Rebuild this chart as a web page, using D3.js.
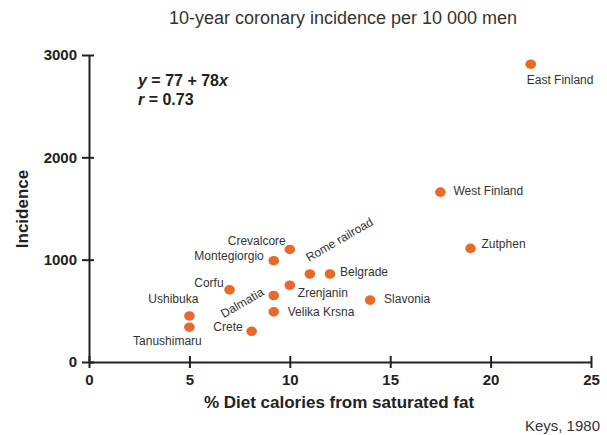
<!DOCTYPE html>
<html>
<head>
<meta charset="utf-8">
<script src="https://cdn.jsdelivr.net/npm/d3@7"></script>
<style>
  body { margin: 0; background: #fff; }
  svg { display: block; font-family: "Liberation Sans", Arial, Helvetica, sans-serif; }
</style>
</head>
<body>
<div id="chart"></div>
<script>
// Seven Countries study: saturated fat vs coronary incidence //
const width = 607;
const height = 435;

// data
const cohorts = ["East Finland", "West Finland", "Zutphen", "Slavonia", "Belgrade",
  "Rome railroad", "Crevalcore", "Montegiorgio", "Zrenjanin", "Dalmatia",
  "Velika Krsna", "Corfu", "Ushibuka", "Tanushimaru", "Crete"];
const satFat = [22, 17.5, 19, 14, 12, 11, 10, 9.2, 10, 9.2, 9.2, 7, 5, 5, 8.1];
const incidence = [2910, 1660, 1110, 605, 860, 860, 1100, 990, 750, 650, 490, 705, 450, 340, 300];

const xTicks = [0, 5, 10, 15, 20, 25];
const yTicks = [0, 1000, 2000, 3000];

// where each name sits relative to its dot
const labelPlace = {
  "East Finland": { dx: -4, dy: 16, anchor: "start" },
  "West Finland": { dx: 13, dy: -1, anchor: "start" },
  "Zutphen": { dx: 11, dy: -4, anchor: "start" },
  "Slavonia": { dx: 14, dy: -1, anchor: "start" },
  "Belgrade": { dx: 10, dy: -2, anchor: "start" },
  "Rome railroad": { dx: -1, dy: -12, anchor: "start", rotate: -30 },
  "Crevalcore": { dx: -4, dy: -8, anchor: "end" },
  "Montegiorgio": { dx: -10, dy: -5, anchor: "end" },
  "Zrenjanin": { dx: 8, dy: 8, anchor: "start" },
  "Dalmatia": { dx: -9, dy: -1, anchor: "end", rotate: -30 },
  "Velika Krsna": { dx: 14, dy: 0, anchor: "start" },
  "Corfu": { dx: -6, dy: -7, anchor: "end" },
  "Ushibuka": { dx: 9, dy: -17, anchor: "end" },
  "Tanushimaru": { dx: -22, dy: 14, anchor: "middle" },
  "Crete": { dx: -9, dy: -4, anchor: "end" }
};

const points = cohorts.map((name, i) => ({ name, x: satFat[i], y: incidence[i] }));

const svg = d3.select("#chart")
  .append("svg")
  .attr("width", width)
  .attr("height", height);

const x = d3.scaleLinear().domain([0, 25]).range([89, 591]);
const y = d3.scaleLinear().domain([0, 3000]).range([362, 55]);

// title
svg.append("text")
  .attr("x", 343)
  .attr("y", 24)
  .attr("text-anchor", "middle")
  .style("font-size", "18px")
  .attr("fill", "#333")
  .text("10-year coronary incidence per 10 000 men");

// y axis
const yAxis = svg.append("g")
  .attr("transform", `translate(${x(0)},0)`)
  .call(d3.axisLeft(y).tickValues(yTicks).tickFormat(d3.format("d")).tickSizeOuter(0));
yAxis.select(".domain").attr("stroke", "#222").attr("stroke-width", 2);
yAxis.selectAll(".tick line").attr("x1", 5).attr("x2", -7).attr("stroke", "#222").attr("stroke-width", 2);
yAxis.selectAll(".tick text")
  .attr("x", -12)
  .attr("fill", "#222")
  .style("font-size", "15px")
  .style("font-weight", "bold")
  .style("font-family", "Liberation Sans, Arial, sans-serif");

// x axis
const xAxis = svg.append("g")
  .attr("transform", `translate(0,${y(0)})`)
  .call(d3.axisBottom(x).tickValues(xTicks).tickSizeOuter(0));
xAxis.select(".domain").attr("stroke", "#222").attr("stroke-width", 2);
xAxis.selectAll(".tick line").attr("y1", -6).attr("y2", 6).attr("stroke", "#222").attr("stroke-width", 2);
xAxis.selectAll(".tick text")
  .attr("y", 12)
  .attr("fill", "#222")
  .style("font-size", "15px")
  .style("font-weight", "bold")
  .style("font-family", "Liberation Sans, Arial, sans-serif");

// axis titles
svg.append("text")
  .attr("x", 339)
  .attr("y", 408)
  .attr("text-anchor", "middle")
  .style("font-size", "17px")
  .style("font-weight", "bold")
  .attr("fill", "#222")
  .text("% Diet calories from saturated fat");

svg.append("text")
  .attr("transform", "translate(28,209) rotate(-90)")
  .attr("text-anchor", "middle")
  .style("font-size", "17px")
  .style("font-weight", "bold")
  .attr("fill", "#222")
  .text("Incidence");

// regression note
const eq = svg.append("text")
  .attr("x", 138)
  .attr("y", 86)
  .style("font-size", "16px")
  .style("font-weight", "bold")
  .attr("fill", "#222");
eq.append("tspan").style("font-style", "italic").text("y");
eq.append("tspan").text(" = 77 + 78");
eq.append("tspan").style("font-style", "italic").text("x");

const eq2 = svg.append("text")
  .attr("x", 138)
  .attr("y", 105)
  .style("font-size", "16px")
  .style("font-weight", "bold")
  .attr("fill", "#222");
eq2.append("tspan").style("font-style", "italic").text("r");
eq2.append("tspan").text(" = 0.73");

// dots
svg.selectAll(".dot")
  .data(points)
  .enter()
  .append("ellipse")
  .attr("class", "dot")
  .attr("cx", d => x(d.x))
  .attr("cy", d => y(d.y))
  .attr("rx", 5.3)
  .attr("ry", 4.8)
  .attr("fill", "#e8692a");

// names
svg.selectAll(".name")
  .data(points)
  .enter()
  .append("text")
  .attr("class", "name")
  .attr("transform", d => {
    const p = labelPlace[d.name];
    return `translate(${x(d.x) + p.dx},${y(d.y) + p.dy})` + (p.rotate ? ` rotate(${p.rotate})` : "");
  })
  .attr("text-anchor", d => labelPlace[d.name].anchor)
  .attr("dominant-baseline", d => labelPlace[d.name].rotate ? "auto" : "central")
  .style("font-size", "12px")
  .attr("fill", "#333")
  .text(d => d.name);

// source
svg.append("text")
  .attr("x", 600)
  .attr("y", 431)
  .attr("text-anchor", "end")
  .style("font-size", "15px")
  .attr("fill", "#333")
  .text("Keys, 1980");
</script>
</body>
</html>
